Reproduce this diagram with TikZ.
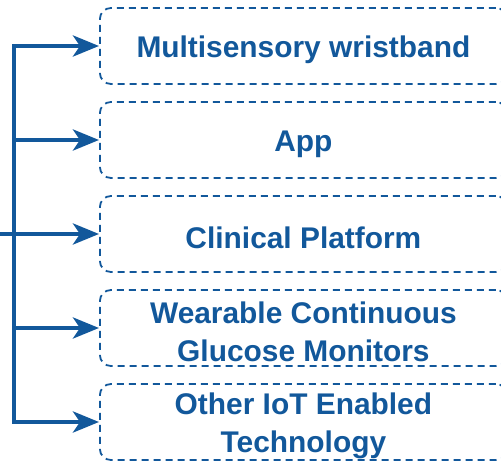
\documentclass[tikz,border=0pt]{standalone}
\usepackage{fontspec}
\setmainfont{Liberation Sans}
\usetikzlibrary{arrows.meta}
\definecolor{navy}{RGB}{18,88,155}
\begin{document}
\begin{tikzpicture}[x=1bp,y=-1bp,
  item/.style={draw=navy, line width=1.8bp, dash pattern=on 7bp off 5bp,
    rounded corners=11bp, minimum width=407bp, minimum height=76bp,
    anchor=west, inner sep=0pt},
  caption/.style={text=navy, font=\bfseries\fontsize{30}{38}\selectfont,
    align=center, inner sep=0pt, yshift=-4bp},
  link/.style={draw=navy, line width=4.4bp},
  feed/.style={link, -{Stealth[length=26bp, width=21bp, inset=7bp]}}]
\useasboundingbox (0,0) rectangle (501,464);
% right-hand boxes (they run past the right margin)
\node[item] (b1) at (99,46)  {};
\node[item] (b2) at (99,140) {};
\node[item] (b3) at (99,234) {};
\node[item] (b4) at (99,328) {};
\node[item] (b5) at (99,422) {};
% box texts
\node[caption] (t1) at (b1.center) {Multisensory wristband};
\node[caption] (t2) at (b2.center) {App};
\node[caption] (t3) at (b3.center) {Clinical Platform};
\node[caption] (t4) at (b4.center) {Wearable Continuous\\Glucose Monitors};
\node[caption] (t5) at (b5.center) {Other IoT Enabled\\Technology};
% trunk and branches
\coordinate (top) at (14,46);
\coordinate (bot) at (14,422);
\coordinate (mid) at (14,234);
\coordinate (in) at (0,234);
\draw[link, line cap=rect] (top) -- (bot);
\draw[link] (in) -- (mid);
\foreach \b in {b1,b2,b3,b4,b5}
  \draw[feed] (mid |- \b.west) -- (\b.west);
\end{tikzpicture}
\end{document}
